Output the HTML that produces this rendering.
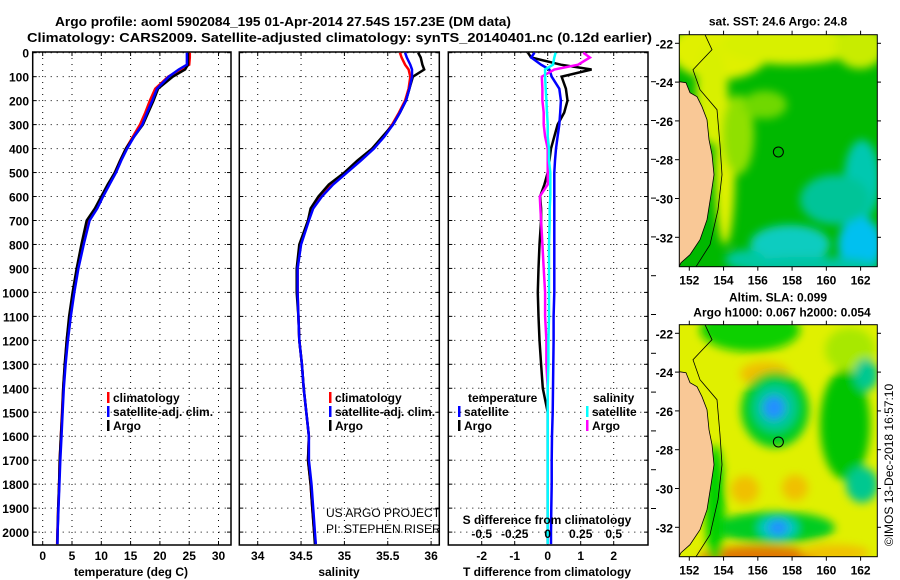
<!DOCTYPE html>
<html><head><meta charset="utf-8">
<style>
body{margin:0;background:#fff;}
svg{display:block;font-family:"Liberation Sans",sans-serif;}
.b{font-weight:bold;font-size:13px;}
.t{font-size:12px;font-weight:bold;}
</style></head>
<body>
<svg id="fig" width="900" height="580" viewBox="0 0 900 580">
<text x="55" y="26" class="b" textLength="456" lengthAdjust="spacingAndGlyphs">Argo profile: aoml 5902084_195 01-Apr-2014 27.54S 157.23E (DM data)</text>
<text x="27" y="42" class="b" textLength="625" lengthAdjust="spacingAndGlyphs">Climatology: CARS2009. Satellite-adjusted climatology: synTS_20140401.nc (0.12d earlier)</text>
<g id="g"></g>
</svg>
<script>
// ---- data ----
const depths   = [0,20,50,70,100,150,200,250,300,350,400,450,500,550,600,650,700,800,900,1000,1100,1200,1300,1400,1500,1600,1700,1800,1900,2000,2050];
const tempClim = [25.1,25.1,25.0,23.5,21.4,19.2,18.3,17.5,16.6,15.4,14.2,13.2,12.3,11.2,10.1,9.0,7.7,6.7,5.9,5.2,4.6,4.1,3.8,3.5,3.3,3.1,2.9,2.8,2.65,2.5,2.45];
const tempSat  = [24.6,24.6,24.6,23.2,21.5,19.5,18.7,17.8,17.0,15.6,14.4,13.4,12.5,11.4,10.3,9.3,8.0,7.0,6.1,5.4,4.8,4.3,3.9,3.6,3.4,3.2,3.0,2.85,2.7,2.55,2.5];
const tempArgo = [24.8,24.8,24.8,24.3,22.2,19.7,18.9,18.0,17.1,15.6,14.2,13.2,12.3,11.1,10.0,8.9,7.5,6.6,5.8,5.1,4.5,4.1,3.75,3.5,3.35,3.1,2.9,2.8,2.65,2.55,2.5];
const saltClim = [35.64,35.66,35.7,35.74,35.76,35.74,35.7,35.63,35.55,35.45,35.32,35.17,35.0,34.84,34.72,34.62,34.58,34.49,34.46,34.46,34.47,34.48,34.51,34.53,34.56,34.59,34.58,34.61,34.63,34.65,34.67];
const saltSat  = [35.7,35.72,35.76,35.78,35.78,35.75,35.71,35.64,35.56,35.46,35.34,35.19,35.03,34.87,34.74,34.64,34.59,34.5,34.46,34.46,34.47,34.48,34.51,34.53,34.56,34.59,34.59,34.62,34.64,34.66,34.67];
const saltArgo = [35.85,35.88,35.9,35.92,35.79,35.75,35.71,35.64,35.56,35.44,35.32,35.15,35.0,34.82,34.7,34.61,34.58,34.48,34.45,34.45,34.47,34.48,34.51,34.53,34.56,34.59,34.58,34.61,34.63,34.65,34.66];
const dTsat    = [-0.4,-0.5,-0.2,0.05,0.12,0.35,0.4,0.38,0.35,0.3,0.25,0.22,0.2,0.2,0.2,0.2,0.2,0.2,0.2,0.2,0.18,0.18,0.17,0.16,0.15,0.13,0.12,0.12,0.11,0.1,0.1];
const dTargo   = [-0.6,-0.5,0.4,1.33,0.42,0.55,0.6,0.5,0.3,0.2,0.1,0.05,0.0,-0.1,-0.23,-0.2,-0.2,-0.25,-0.28,-0.3,-0.28,-0.25,-0.2,-0.15,0.0,0.0,0.0,0.0,0.0,0.0,0.0];
const dSsat    = [0.06,0.05,0.04,-0.02,-0.02,-0.015,-0.01,-0.005,0.0,0.0,0.01,0.01,0.02,0.02,0.02,0.015,0.015,0.01,0.01,0.01,0.01,0.005,0.005,0.0,0.0,0.0,0.0,0.0,0.0,0.0,0.0];
const dSargo   = [0.27,0.32,0.23,0.05,-0.045,-0.04,-0.04,-0.03,-0.03,-0.02,0.0,0.0,0.0,0.0,-0.06,-0.055,-0.05,-0.04,-0.03,-0.02,-0.02,-0.01,-0.01,0.0,0.0,0.0,0.0,0.0,0.0,0.0,0.0];
const depthTicks = [0,100,200,300,400,500,600,700,800,900,1000,1100,1200,1300,1400,1500,1600,1700,1800,1900,2000];
const tTicks = [0,5,10,15,20,25,30];
const sTicks = [34,34.5,35,35.5,36];
const sTickLabels = ["34","34.5","35","35.5","36"];
const dtTicks = [-2,-1,0,1,2];
const dsTicks = [-0.5,-0.25,0,0.25,0.5];
const dsTickLabels = ["-0.5","-0.25","0","0.25","0.5"];
const lonTicks = [152,154,156,158,160,162];
const latTicks = [-22,-24,-26,-28,-30,-32];

const NS="http://www.w3.org/2000/svg";
const G=document.getElementById('g');
function el(tag,attrs,parent,txt){const e=document.createElementNS(NS,tag);for(const k in attrs)e.setAttribute(k,attrs[k]);if(txt!==undefined)e.textContent=txt;(parent||G).appendChild(e);return e;}

const yD = d => 52.7 + d*0.2397;
const PT=52, PB=545;
const xT = v => 42.7 + v*5.86;
const xS = v => 257.7 + (v-34)*86.7;
const xDT = v => 547.7 + v*33;
const xDS = v => 547.7 + v*132;

function panel(name,L,R){
  const g=el('g',{});
  
  
  el('rect',{x:L,y:PT,width:R-L,height:PB-PT,fill:'none',stroke:'#000','stroke-width':1.5},g);
  depthTicks.forEach(d=>{
    el('line',{x1:L,x2:R,y1:yD(d),y2:yD(d),stroke:'#000','stroke-dasharray':'1,5','stroke-width':1},g);
    el('line',{x1:L,x2:L+4,y1:yD(d),y2:yD(d),stroke:'#000'},g);
    el('line',{x1:R-4,x2:R,y1:yD(d),y2:yD(d),stroke:'#000'},g);
  });
  return g;
}
function vgrid(g,ticks,fx){ticks.forEach(v=>{el('line',{x1:fx(v),x2:fx(v),y1:PT,y2:PB,stroke:'#000','stroke-dasharray':'1,5'},g);el('line',{x1:fx(v),x2:fx(v),y1:PT,y2:PT+4,stroke:'#000'},g);el('line',{x1:fx(v),x2:fx(v),y1:PB-4,y2:PB,stroke:'#000'},g);});}
function line(g,vals,fx,color,name,w){
  const p=vals.map((v,i)=>fx(v).toFixed(1)+','+yD(depths[i]).toFixed(1)).join(' ');
  const e=el('polyline',{points:p,fill:'none',stroke:color,'stroke-width':w||2.5},g);
  
  
}
function legend(g,x,y,color,txt,name){
  el('rect',{x:x,y:y-10,width:2.5,height:11,fill:color},g);
  const t=el('text',{x:x+6,y:y,class:'t'},g,txt);
  
  
}

// Panel 1 temperature
const p1=panel('temperature-panel',32.7,231);
vgrid(p1,tTicks,xT);
line(p1,tempClim,xT,'#f00','temp-climatology-line');
line(p1,tempArgo,xT,'#000','temp-argo-line');
line(p1,tempSat,xT,'#00f','temp-satellite-line');
depthTicks.forEach(d=>{el('text',{x:29,y:yD(d)+5,class:'t','text-anchor':'end'},p1,String(d));});
tTicks.forEach(v=>el('text',{x:xT(v),y:560,class:'t','text-anchor':'middle'},p1,String(v)));
el('text',{x:131,y:576,class:'t','text-anchor':'middle'},p1,'temperature (deg C)');
legend(p1,107,402,'#f00','climatology','legend-climatology');
legend(p1,107,416,'#00f','satellite-adj. clim.','legend-satellite');
legend(p1,107,430,'#000','Argo','legend-argo');

// Panel 2 salinity
const p2=panel('salinity-panel',239.3,439.3);
vgrid(p2,sTicks,xS);
line(p2,saltClim,xS,'#f00','salt-climatology-line');
line(p2,saltArgo,xS,'#000','salt-argo-line');
line(p2,saltSat,xS,'#00f','salt-satellite-line');
sTicks.forEach((v,i)=>el('text',{x:xS(v),y:560,class:'t','text-anchor':'middle'},p2,sTickLabels[i]));
el('text',{x:339,y:576,class:'t','text-anchor':'middle'},p2,'salinity');
legend(p2,329,402,'#f00','climatology','legend2-climatology');
legend(p2,329,416,'#00f','satellite-adj. clim.','legend2-satellite');
legend(p2,329,430,'#000','Argo','legend2-argo');
el('text',{x:326,y:517,'font-size':'12px'},p2,'US ARGO PROJECT');
el('text',{x:326,y:533,'font-size':'12px'},p2,'PI: STEPHEN RISER');

// Panel 3 differences
const p3=panel('difference-panel',448.3,648);
vgrid(p3,dtTicks,xDT);
line(p3,dTargo,xDT,'#000','t-diff-argo-line');
line(p3,dTsat,xDT,'#00f','t-diff-satellite-line');
line(p3,dSargo,xDS,'#f0f','s-diff-argo-line');
line(p3,dSsat,xDS,'#0ff','s-diff-satellite-line');
for(let k=0;k<12;k++){const y=81.7+k*38.8;el('line',{x1:651,x2:656,y1:y,y2:y,stroke:'#000'},p3);}
dtTicks.forEach(v=>el('text',{x:xDT(v),y:560,class:'t','text-anchor':'middle'},p3,String(v)));
dsTicks.forEach((v,i)=>el('text',{x:xDS(v),y:538,class:'t','text-anchor':'middle'},p3,dsTickLabels[i]));
el('text',{x:547,y:524,class:'t','text-anchor':'middle'},p3,'S difference from climatology');
el('text',{x:547,y:576,class:'t','text-anchor':'middle'},p3,'T difference from climatology');
el('text',{x:468,y:402,class:'t'},p3,'temperature');
legend(p3,458,416,'#00f','satellite','legend3-t-satellite');
legend(p3,458,430,'#000','Argo','legend3-t-argo');
el('text',{x:593,y:402,class:'t'},p3,'salinity');
legend(p3,586,416,'#0ff','satellite','legend3-s-satellite');
legend(p3,586,430,'#f0f','Argo','legend3-s-argo');

// Maps
const mx = lon => 689.3 + (lon-152)*17.13;
function map(name,top,base,blobs,title1,title2){
  const g=el('g',{});
  
  
  const my = lat => top+8.6 + (-22-lat)*19.4;
  const id='c'+Math.round(top);
  const d=el('defs',{},g);
  const cp=el('clipPath',{id:id},d);
  el('rect',{x:679.3,y:top,width:198,height:232},cp);
  const f=el('filter',{id:'f'+id,x:'-50%',y:'-50%',width:'200%',height:'200%'},d);
  el('feGaussianBlur',{stdDeviation:4.5},f);
  const inner=el('g',{'clip-path':'url(#'+id+')'},g);
  el('rect',{x:679.3,y:top,width:198,height:232,fill:base},inner);
  const bg=el('g',{filter:'url(#f'+id+')'},inner);
  blobs.forEach(b=>el('ellipse',{cx:b[0],cy:top+b[1],rx:b[2],ry:b[3],fill:b[4]},bg));
  // land
  const land=[[679,top+47],[686,top+48],[690,top+58],[697,top+62],[702,top+72],[707,top+85],[709,top+105],[712,top+120],[714,top+140],[711,top+160],[707,top+185],[700,top+205],[690,top+220],[681,top+228],[679,top+232]];
  el('polygon',{points:land.map(p=>p.join(',')).join(' '),fill:'#f9c896',stroke:'#000','stroke-width':0.8},inner);
  el('path',{d:`M 705 ${top} L 712 ${top+15} L 693 ${top+35} L 700 ${top+55} L 717 ${top+75} L 720 ${top+110} L 722 ${top+140} L 718 ${top+175} L 710 ${top+210} L 696 ${top+232}`,fill:'none',stroke:'#000','stroke-width':0.8},inner);
  el('circle',{cx:mx(157.2),cy:my(-27.6),r:5,fill:'none',stroke:'#000','stroke-width':1},g);
  el('rect',{x:679.3,y:top,width:198,height:232,fill:'none',stroke:'#000','stroke-width':1},g);
  lonTicks.forEach(v=>{el('line',{x1:mx(v),x2:mx(v),y1:top+232,y2:top+236,stroke:'#000'},g);el('line',{x1:mx(v),x2:mx(v),y1:top-4,y2:top,stroke:'#000'},g);el('text',{x:mx(v),y:top+250,class:'t','text-anchor':'middle'},g,String(v));});
  latTicks.forEach(v=>{el('line',{x1:675,x2:679.3,y1:my(v),y2:my(v),stroke:'#000'},g);el('line',{x1:877,x2:881,y1:my(v),y2:my(v),stroke:'#000'},g);el('text',{x:673,y:my(v)+5,class:'t','text-anchor':'end'},g,String(v));});
  if(title1){el('text',{x:778,y:top-(title2?23:9),class:'t','text-anchor':'middle'},g,title1);}
  if(title2){el('text',{x:782,y:top-8,class:'t','text-anchor':'middle'},g,title2);}
}
map('sst-map',34.7,'#00b800',[
 [720,15,50,30,'#e0f000'],[790,10,70,20,'#d8f000'],[860,12,25,22,'#c8ec00'],[712,60,16,50,'#d8f000'],
 [725,135,10,75,'#e0f000'],[738,100,16,40,'#90e000'],[765,70,22,14,'#70d800'],
 [862,145,18,40,'#00c8b0'],[860,210,22,28,'#00c0f0'],[790,210,40,20,'#10ccc0'],
 [810,232,70,10,'#00c4a0'],[835,165,35,25,'#00c498'],[745,225,20,10,'#00c8a0']
],'sat. SST: 24.6 Argo: 24.8');
map('sla-map',324.7,'#e0f000',[
 [750,5,50,22,'#10d000'],[850,25,25,22,'#a8e800'],[765,49,25,12,'#f0c000'],
 [775,85,34,38,'#00cc20'],[775,83,22,24,'#00c898'],[774,83,11,12,'#2090ff'],
 [845,100,25,55,'#00c400'],[866,50,12,16,'#00c890'],
 [745,165,14,14,'#f0c000'],[795,163,13,13,'#f0c000'],
 [775,203,60,16,'#00cc20'],[778,203,20,12,'#00c8c0'],[778,203,10,8,'#2090ff'],
 [862,160,16,18,'#00c890'],[760,233,60,12,'#e07800'],[835,228,35,8,'#f0c000'],[715,180,10,60,'#00d000']
],'Altim. SLA: 0.099','Argo h1000: 0.067 h2000: 0.054');
const cr=el('text',{x:0,y:0,'font-size':'12px','text-anchor':'middle',transform:'translate(893,465) rotate(-90)'},G,'©IMOS 13-Dec-2018 16:57:10');


</script>
</body></html>
